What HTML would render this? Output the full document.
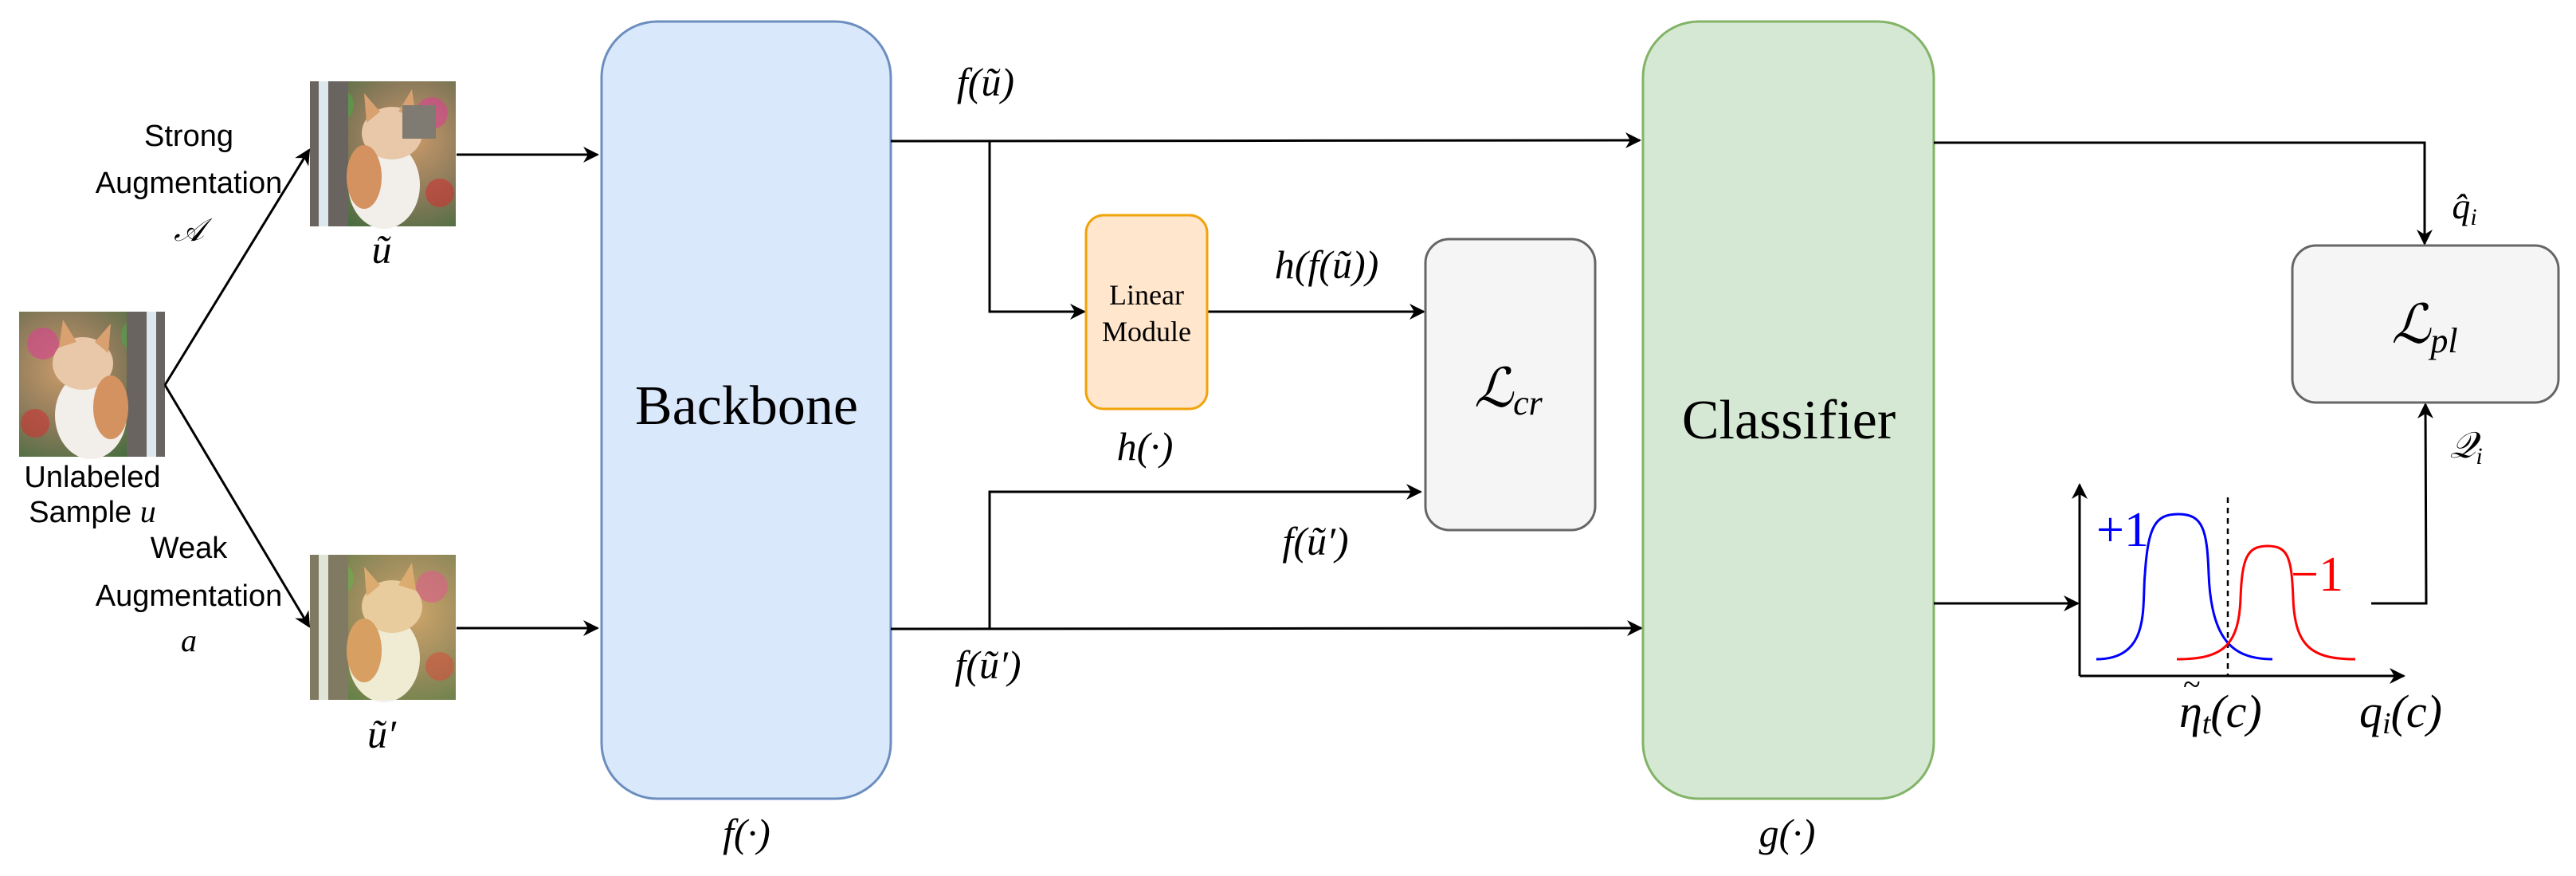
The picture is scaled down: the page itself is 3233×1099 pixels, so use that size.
<!DOCTYPE html>
<html><head><meta charset="utf-8"><style>
html,body{margin:0;padding:0;background:#fff;}
svg{display:block;}
.s{font-family:"Liberation Sans",sans-serif;font-size:38px;fill:#000;}
.m{font-family:"Liberation Serif",serif;font-style:italic;fill:#000;}
.r{font-family:"Liberation Serif",serif;fill:#000;}
</style></head><body>
<svg width="3233" height="1099" viewBox="0 0 3233 1099" xmlns="http://www.w3.org/2000/svg">
<defs>
<marker id="ar" viewBox="0 0 20 20" refX="18" refY="10" markerWidth="20" markerHeight="20" markerUnits="userSpaceOnUse" orient="auto">
<path d="M0,0 L20,10 L0,20 L6,10 z" fill="#000"/></marker>
<radialGradient id="bg1" cx="0.3" cy="0.4" r="0.8"><stop offset="0" stop-color="#c99a6a"/><stop offset="0.5" stop-color="#8a7a5a"/><stop offset="1" stop-color="#3a6a3a"/></radialGradient>
<g id="cat">
<rect width="183" height="182" fill="url(#bg1)"/>
<circle cx="30" cy="40" r="20" fill="#d14a8a" opacity="0.7"/>
<circle cx="150" cy="30" r="22" fill="#5a9a4a" opacity="0.8"/>
<circle cx="20" cy="140" r="18" fill="#c33" opacity="0.6"/>
<rect x="135" y="0" width="48" height="182" fill="#6a6460"/>
<rect x="160" y="0" width="12" height="182" fill="#dde8ee"/>
<ellipse cx="90" cy="130" rx="45" ry="55" fill="#f2eeea"/>
<ellipse cx="80" cy="65" rx="38" ry="33" fill="#e8c8a8"/>
<path d="M50,45 L55,10 L72,38 Z M95,38 L115,15 L112,52 Z" fill="#d9a070"/>
<ellipse cx="115" cy="120" rx="22" ry="40" fill="#d49260"/>
</g>
</defs>

<use href="#cat" x="24" y="391"/>
<g transform="translate(572,102) scale(-1,1)"><use href="#cat"/></g>
<rect x="505" y="132" width="42" height="42" fill="#7f7a72"/>
<g transform="translate(572,696) scale(-1,1)"><use href="#cat"/></g>
<rect x="389" y="696" width="183" height="182" fill="#e8e070" opacity="0.18"/>

<line x1="207" y1="483" x2="388" y2="188" stroke="#000" stroke-width="3" marker-end="url(#ar)"/>
<line x1="207" y1="483" x2="388" y2="786" stroke="#000" stroke-width="3" marker-end="url(#ar)"/>
<line x1="573" y1="194" x2="750" y2="194" stroke="#000" stroke-width="3" marker-end="url(#ar)"/>
<line x1="573" y1="788" x2="750" y2="788" stroke="#000" stroke-width="3" marker-end="url(#ar)"/>

<text class="s" x="237" y="183" text-anchor="middle">Strong</text>
<text class="s" x="237" y="242" text-anchor="middle">Augmentation</text>
<text class="m" x="237" y="302" font-size="40" text-anchor="middle">𝒜</text>
<text class="m" x="479" y="330" font-size="50" text-anchor="middle">ũ</text>
<text class="s" x="116" y="611" text-anchor="middle">Unlabeled</text>
<text class="s" x="116" y="655" text-anchor="middle">Sample <tspan class="m" font-size="40">u</tspan></text>
<text class="s" x="237" y="700" text-anchor="middle">Weak</text>
<text class="s" x="237" y="760" text-anchor="middle">Augmentation</text>
<text class="m" x="237" y="817" font-size="40" text-anchor="middle">a</text>
<text class="m" x="479" y="938" font-size="50" text-anchor="middle">ũ′</text>

<rect x="755" y="27" width="363" height="975" rx="70" fill="#dae8fc" stroke="#6c8ebf" stroke-width="3"/>
<text class="r" x="937" y="532" font-size="70" text-anchor="middle">Backbone</text>
<text class="m" x="937" y="1062" font-size="50" text-anchor="middle">f(·)</text>

<line x1="1118" y1="177" x2="2058" y2="176" stroke="#000" stroke-width="3" marker-end="url(#ar)"/>
<polyline points="1242,177 1242,391 1361,391" fill="none" stroke="#000" stroke-width="3" marker-end="url(#ar)"/>
<line x1="1515" y1="391" x2="1787" y2="391" stroke="#000" stroke-width="3" marker-end="url(#ar)"/>
<polyline points="1242,789 1242,617 1783,617" fill="none" stroke="#000" stroke-width="3" marker-end="url(#ar)"/>
<line x1="1118" y1="789" x2="2060" y2="788" stroke="#000" stroke-width="3" marker-end="url(#ar)"/>

<text class="m" x="1237" y="120" font-size="50" text-anchor="middle">f(ũ)</text>
<text class="m" x="1665" y="349" font-size="50" text-anchor="middle">h(f(ũ))</text>
<text class="m" x="1437" y="577" font-size="50" text-anchor="middle">h(·)</text>
<text class="m" x="1651" y="696" font-size="50" text-anchor="middle">f(ũ′)</text>
<text class="m" x="1240" y="851" font-size="50" text-anchor="middle">f(ũ′)</text>

<rect x="1363" y="270" width="152" height="243" rx="22" fill="#ffe6cc" stroke="#f0a30a" stroke-width="3"/>
<text class="r" x="1439" y="382" font-size="36" text-anchor="middle">Linear</text>
<text class="r" x="1439" y="428" font-size="36" text-anchor="middle">Module</text>

<rect x="1789" y="300" width="213" height="365" rx="30" fill="#f5f5f5" stroke="#666" stroke-width="3"/>
<text class="m" x="1893" y="510" font-size="68" text-anchor="middle">ℒ<tspan font-size="44" dy="10">cr</tspan></text>

<rect x="2062" y="27" width="365" height="975" rx="70" fill="#d5e8d4" stroke="#82b366" stroke-width="3"/>
<text class="r" x="2245" y="550" font-size="70" text-anchor="middle">Classifier</text>
<text class="m" x="2243" y="1062" font-size="50" text-anchor="middle">g(·)</text>

<polyline points="2427,179 3043,179 3043,306" fill="none" stroke="#000" stroke-width="3" marker-end="url(#ar)"/>
<line x1="2427" y1="757" x2="2608" y2="757" stroke="#000" stroke-width="3" marker-end="url(#ar)"/>
<polyline points="2976,757 3045,757 3044,507" fill="none" stroke="#000" stroke-width="3" marker-end="url(#ar)"/>
<text class="m" x="3093" y="274" font-size="46" text-anchor="middle">q̂<tspan font-size="30" dy="8">i</tspan></text>
<text class="m" x="3095" y="574" font-size="46" text-anchor="middle">𝒬<tspan font-size="30" dy="8">i</tspan></text>

<rect x="2877" y="308" width="334" height="197" rx="30" fill="#f5f5f5" stroke="#666" stroke-width="3"/>
<text class="m" x="3043" y="430" font-size="68" text-anchor="middle">ℒ<tspan font-size="44" dy="12">pl</tspan></text>

<line x1="2610" y1="848" x2="2610" y2="608" stroke="#000" stroke-width="3" marker-end="url(#ar)"/>
<line x1="2610" y1="848" x2="3017" y2="848" stroke="#000" stroke-width="3" marker-end="url(#ar)"/>
<line x1="2796" y1="624" x2="2796" y2="848" stroke="#000" stroke-width="2.5" stroke-dasharray="7,6"/>
<path d="M2631,827 C2700,827 2688,760 2692,720 C2696,660 2705,645 2734,645 C2765,645 2770,665 2772,720 C2775,800 2800,827 2852,827" fill="none" stroke="#0000ff" stroke-width="3"/>
<path d="M2732,827 C2790,827 2810,810 2812,750 C2814,700 2820,685 2846,685 C2872,685 2876,700 2878,750 C2880,810 2900,827 2956,827" fill="none" stroke="#ff0000" stroke-width="3"/>
<text class="r" x="2631" y="685" font-size="62" style="fill:#0000ff">+1</text>
<text class="r" x="2875" y="741" font-size="62" style="fill:#ff0000">−1</text>
<text class="m" x="2735" y="912" font-size="58">η<tspan font-size="38" dy="8">t</tspan><tspan dy="-8">(c)</tspan></text>
<text class="r" x="2740" y="872" font-size="40">~</text>
<text class="m" x="3013" y="912" font-size="58" text-anchor="middle">q<tspan font-size="38" dy="8">i</tspan><tspan dy="-8">(c)</tspan></text>
</svg>
</body></html>
